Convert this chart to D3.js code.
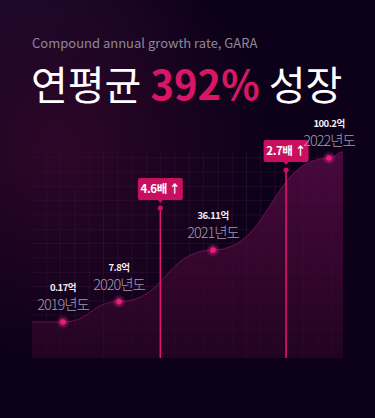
<!DOCTYPE html>
<html>
<head>
<meta charset="utf-8">
<script src="https://cdn.jsdelivr.net/npm/d3@7"></script>
<style>
  html, body { margin: 0; padding: 0; background: #0c0119; }
  svg { display: block; }
  text { font-family: "Noto Sans CJK KR", "Noto Sans", sans-serif; }
</style>
</head>
<body>
<svg id="chart" width="375" height="418"></svg>
<script>
const years = [2019, 2020, 2021, 2022]
const values = [0.17, 7.8, 36.11, 100.2]
const valueLabels = ["0.17억", "7.8억", "36.11억", "100.2억"]
const yearLabels = ["2019년도", "2020년도", "2021년도", "2022년도"]
const growthLabels = ["4.6배", "2.7배"]

const W = 375, H = 418
const plot = { left: 32, right: 343, top: 152, bottom: 358 }
const pink = "#e0156e"

const svg = d3.select("#chart")
const defs = svg.append("defs")

// background glow
const bg = defs.append("radialGradient").attr("id", "bgGlow")
    .attr("gradientUnits", "userSpaceOnUse")
    .attr("cx", 60).attr("cy", 150).attr("r", 210)
bg.append("stop").attr("offset", "0%").attr("stop-color", "#2e0628").attr("stop-opacity", 1)
bg.append("stop").attr("offset", "100%").attr("stop-color", "#2e0628").attr("stop-opacity", 0)

const bg2 = defs.append("radialGradient").attr("id", "bgGlow2")
    .attr("gradientUnits", "userSpaceOnUse")
    .attr("cx", 0).attr("cy", 0).attr("r", 200)
bg2.append("stop").attr("offset", "0%").attr("stop-color", "#1a0a2c").attr("stop-opacity", 1)
bg2.append("stop").attr("offset", "100%").attr("stop-color", "#1a0a2c").attr("stop-opacity", 0)

svg.append("rect").attr("width", W).attr("height", H).attr("fill", "#0c0119")
svg.append("rect").attr("width", W).attr("height", H).attr("fill", "url(#bgGlow2)")
svg.append("rect").attr("width", W).attr("height", H).attr("fill", "url(#bgGlow)")

// area gradient
const ag = defs.append("linearGradient").attr("id", "areaFill")
    .attr("gradientUnits", "userSpaceOnUse")
    .attr("x1", 0).attr("y1", plot.top).attr("x2", 0).attr("y2", plot.bottom)
ag.append("stop").attr("offset", "0%").attr("stop-color", "#520a42")
ag.append("stop").attr("offset", "100%").attr("stop-color", "#250422")

const glow = defs.append("radialGradient").attr("id", "dotGlow")
glow.append("stop").attr("offset", "0%").attr("stop-color", "#ff2a8a").attr("stop-opacity", 0.7)
glow.append("stop").attr("offset", "100%").attr("stop-color", "#ff2a8a").attr("stop-opacity", 0)

// titles
svg.append("text")
    .attr("x", 32).attr("y", 48)
    .attr("font-family", "'Noto Sans', sans-serif")
    .attr("font-size", 13)
    .attr("fill", "#8f8899")
    .text("Compound annual growth rate, GARA")

const title = svg.append("text")
    .attr("x", 31).attr("y", 100)
    .attr("font-size", 40)
    .attr("fill", "#ffffff")
title.append("tspan").text("연평균 ")
title.append("tspan").attr("font-weight", "bold").attr("fill", "#d81665").text("392%")
title.append("tspan").text(" 성장")

// scales
const x = d3.scaleLinear().domain(years).range([63, 119, 213, 329])
const y = d3.scalePow().exponent(0.8).domain([values[0], values[3]]).range([322, 158])

// grid
const step = 14.3
const grid = svg.append("g").attr("stroke", "#2a1438").attr("stroke-opacity", 0.45).attr("stroke-width", 1)
grid.selectAll(".v").data(d3.range(plot.left + step, plot.right, step)).enter()
    .append("line").attr("x1", d => d).attr("x2", d => d)
    .attr("y1", plot.top).attr("y2", plot.bottom)
grid.selectAll(".h").data(d3.range(plot.bottom - step, plot.top, -step)).enter()
    .append("line").attr("y1", d => d).attr("y2", d => d)
    .attr("x1", plot.left).attr("x2", plot.right)

// area
const pts = years.map((yr, i) => [x(yr), y(values[i])])
const areaPts = [[plot.left, y(values[0])], ...pts, [plot.right, plot.top]]

const area = d3.area().x(d => d[0]).y0(plot.bottom).y1(d => d[1]).curve(d3.curveBumpX)
const line = d3.line().x(d => d[0]).y(d => d[1]).curve(d3.curveBumpX)

svg.append("path").attr("d", area(areaPts)).attr("fill", "url(#areaFill)").attr("fill-opacity", 0.85)
svg.append("path").attr("d", line(areaPts)).attr("fill", "none")
    .attr("stroke", "#6e0f50").attr("stroke-width", 1)

// grid over area, faint
const grid2 = svg.append("g").attr("stroke", "#6a1a5a").attr("stroke-opacity", 0.1)
grid2.selectAll(".v").data(d3.range(plot.left + step, plot.right, step)).enter()
    .append("line").attr("x1", d => d).attr("x2", d => d)
    .attr("y1", plot.top).attr("y2", plot.bottom)
grid2.selectAll(".h").data(d3.range(plot.bottom - step, plot.top, -step)).enter()
    .append("line").attr("y1", d => d).attr("y2", d => d)
    .attr("x1", plot.left).attr("x2", plot.right)

// growth badges
const badgeX = [x(2020.44), x(2021.63)]
const badgeY = [208, 170]
growthLabels.forEach((lab, i) => {
    const bx = badgeX[i], by = badgeY[i]
    const g = svg.append("g")
    g.append("line").attr("x1", bx).attr("x2", bx).attr("y1", by).attr("y2", plot.bottom)
        .attr("stroke", pink).attr("stroke-width", 1.6)
    g.append("circle").attr("cx", bx).attr("cy", by).attr("r", 2.6).attr("fill", "#c8105e")
    g.append("rect").attr("x", bx - 22.5).attr("y", by - 30).attr("width", 45).attr("height", 22)
        .attr("rx", 2).attr("fill", "#c8105e")
    g.append("path").attr("d", `M${bx - 3},${by - 8.5}L${bx},${by - 5}L${bx + 3},${by - 8.5}Z`).attr("fill", "#c8105e")
    g.append("text").attr("x", bx).attr("y", by - 15)
        .attr("text-anchor", "middle").attr("font-size", 11.5).attr("font-weight", "bold")
        .attr("fill", "#ffffff").attr("letter-spacing", -0.4)
        .text(lab + " ↑")
})

// dots and labels
const nodes = svg.selectAll(".node").data(years).enter().append("g")
    .attr("transform", (d, i) => `translate(${x(d)},${y(values[i])})`)
nodes.append("circle").attr("r", 7).attr("fill", "url(#dotGlow)")
nodes.append("circle").attr("r", 2.8).attr("fill", "#ec1a7c")

nodes.append("text").attr("y", -31).attr("text-anchor", "middle")
    .attr("font-size", 9.5).attr("font-weight", "bold").attr("fill", "#f2eef5")
    .attr("letter-spacing", -0.5)
    .text((d, i) => valueLabels[i])
nodes.append("text").attr("y", -12).attr("text-anchor", "middle")
    .attr("font-size", 14.5).attr("font-weight", 300).attr("fill", "#a09aa9")
    .attr("letter-spacing", -1)
    .text((d, i) => yearLabels[i])
</script>
</body>
</html>
